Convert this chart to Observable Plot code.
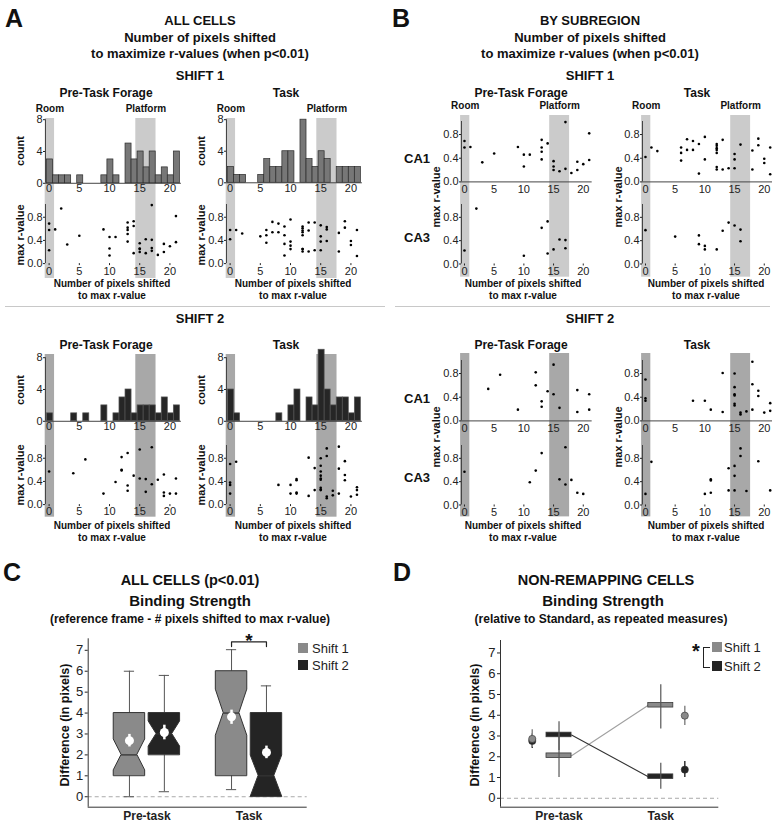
<!DOCTYPE html>
<html>
<head>
<meta charset="utf-8">
<script src="https://cdn.jsdelivr.net/npm/d3@7"></script>
<script src="https://cdn.jsdelivr.net/npm/@observablehq/plot@0.6"></script>
<style>
  html,body{margin:0;padding:0;background:#fff;overflow:hidden;}
  #root{position:relative;width:772px;height:823px;overflow:hidden;background:#fff;font-family:"Liberation Sans",Arial,sans-serif;}
</style>
</head>
<body>
<div id="root"></div>
<script>
// ================= DATA =================
const histBins = [0,1,2,3,4,5,6,7,8,9,10,11,12,13,14,15,16,17,18,19,20,21];
// Panel A histograms (counts per bin)
const histS1Pre  = [3,1,1,1,0,1,0,0,0,1,3,1,0,5,3,4,2,4,1,2,1,4];
const histS1Task = [2,1,1,0,0,1,3,2,2,4,4,0,8,3,2,4,3,0,2,2,2,2];
const histS2Pre  = [1,0,0,0,1,0,1,0,0,2,0,1,3,4,1,2,2,2,1,3,1,2];
const histS2Task = [4,1,0,0,0,0,0,0,1,0,2,4,0,3,2,9,4,2,3,3,1,3];

// Shaded reference regions (pixels shifted)
const regionNames = ["Room", "Platform"];
const regionStart = [-0.65, 14.35];
const regionEnd   = [0.9, 17.7];

// Scatter: pixels shifted (x) and max r-value (r), by shift / condition / subregion
const s1PreCA1x = [0,0,1,3,5,9,10,10,11,13,13,13,13,14,15,15,15,16,17,17,18,19,19,20,21,21];
const s1PreCA1r = [0.69,0.58,0.59,0.33,0.48,0.59,0.46,0.26,0.46,0.71,0.58,0.51,0.38,0.65,0.35,0.26,0.20,0.18,1.01,0.22,0.15,0.34,0.20,0.30,0.82,0.37];
const s1PreCA3x = [0,2,10,13,14,14,15,16,17,17];
const s1PreCA3r = [0.23,0.95,0.14,0.62,0.73,0.18,0.25,0.42,0.41,0.27];

const s1TaskCA1x = [0,1,2,6,6,6,7,7,8,8,9,9,10,10,12,12,12,12,12,12,12,13,13,14,15,15,15,16,18,18,19,19,20,20,21,21];
const s1TaskCA1r = [0.42,0.58,0.52,0.58,0.49,0.36,0.72,0.54,0.69,0.54,0.64,0.14,0.76,0.38,0.64,0.61,0.57,0.54,0.49,0.25,0.21,0.71,0.21,0.23,0.47,0.38,0.23,0.63,0.53,0.21,0.73,0.62,0.39,0.32,0.58,0.13];
const s1TaskCA3x = [0,5,9,9,10,10,12,13,14,15,16,16];
const s1TaskCA3r = [0.58,0.47,0.49,0.34,0.31,0.25,0.25,0.57,0.71,0.66,0.59,0.39];

const s2PreCA1x = [4,6,9,12,12,13,13,14,15,15,16,19,19,21,21];
const s2PreCA1r = [0.54,0.78,0.19,0.82,0.60,0.33,0.24,0.50,0.95,0.45,0.22,0.52,0.15,0.45,0.19];
const s2PreCA3x = [0,11,12,13,16,17,17,18,19,20];
const s2PreCA3r = [0.57,0.39,0.59,0.89,0.44,0.99,0.35,0.43,0.21,0.19];

const s2TaskCA1x = [0,0,0,8,10,11,13,13,15,15,15,15,15,15,16,16,17,18,18,18,19,19,20,21,21];
const s2TaskCA1r = [0.70,0.38,0.34,0.34,0.34,0.19,0.81,0.15,0.80,0.57,0.45,0.43,0.29,0.26,0.14,0.11,0.16,1.00,0.62,0.19,0.51,0.42,0.14,0.30,0.17];
const s2TaskCA3x = [0,1,10,11,11,11,14,14,15,15,15,16,16,17,19,21];
const s2TaskCA3r = [0.19,0.74,0.19,0.44,0.42,0.21,0.63,0.25,0.67,0.50,0.25,0.97,0.84,0.24,0.75,0.25];

// Panel C: box statistics, order = [Pre-task Shift 1, Pre-task Shift 2, Task Shift 1, Task Shift 2]
const conditions = ["Pre-task", "Task"];
const shifts = ["Shift 1", "Shift 2"];
const boxWhiskerLow  = [0, 0.24, 0.34, 0];
const boxQ1          = [1, 2, 1, 0];
const boxMedian      = [2, 3, 4, 1];
const boxQ3          = [4, 4, 6, 4];
const boxWhiskerHigh = [6, 5.8, 7.03, 5.3];
const boxNotchLow    = [1.26, 2.4, 2.92, 0.03];
const boxNotchHigh   = [2.74, 3.6, 5.12, 1.97];
const boxMean        = [2.68, 3.07, 3.82, 2.12];
const boxMeanLow     = [2.38, 2.72, 3.46, 1.82];
const boxMeanHigh    = [2.98, 3.42, 4.14, 2.42];
const sigBracketC    = 7.4;

// Panel D: per condition [Pre-task, Task]
const dMedShift1       = [2.05, 4.48];
const dMedShift2       = [3.05, 1.04];
const dRangeLowShift1  = [1.0, 3.34];
const dRangeHighShift1 = [3.1, 5.47];
const dRangeLowShift2  = [2.3, 0.43];
const dRangeHighShift2 = [3.69, 1.69];
const dMeanShift1      = [2.86, 3.98];
const dMeanLowShift1   = [2.45, 3.5];
const dMeanHighShift1  = [3.3, 4.43];
const dMeanShift2      = [2.76, 1.38];
const dMeanLowShift2   = [2.4, 1.0];
const dMeanHighShift2  = [3.1, 1.77];

// ================= STYLE / LAYOUT =================
const FONT = '"Liberation Sans", Arial, sans-serif';
const GREY = "#8a8a8a", DARK = "#242424";
const HIST1 = "#777777", HIST2 = "#262626";
const BAND1 = "#cbcbcb", BAND2 = "#a8a8a8";
const TICKFS = 11;
const baseStyle = {background: "transparent", overflow: "visible", fontFamily: FONT, color: "#222"};
const root = document.getElementById("root");

function put(el, left, top) {
  el.style.position = "absolute";
  el.style.left = left + "px";
  el.style.top = top + "px";
  root.appendChild(el);
}
function txt(s, cx, cy, size, o = {}) {
  const d = document.createElement("div");
  d.textContent = s;
  const tr = o.left ? "translate(0,-50%)" : "translate(-50%,-50%)";
  d.style.cssText = `position:absolute;left:${cx}px;top:${cy}px;font-size:${size}px;` +
    `font-weight:${o.weight || "bold"};color:${o.color || "#111"};white-space:nowrap;line-height:1;` +
    `font-family:${FONT};transform:${tr}${o.rotate ? " rotate(-90deg)" : ""};`;
  root.appendChild(d);
}
function hline(x1, x2, y, color) {
  const d = document.createElement("div");
  d.style.cssText = `position:absolute;left:${x1}px;top:${y}px;width:${x2 - x1}px;height:0;border-top:1px solid ${color};`;
  root.appendChild(d);
}

const COLS = {
  Apre:  {zero: 48.3,  unit: 6.04, dom: [-0.6, 21.9]},
  Atask: {zero: 229.3, unit: 6.04, dom: [-0.6, 21.9]},
  Bpre:  {zero: 464,   unit: 5.94, dom: [-0.5, 21.5]},
  Btask: {zero: 645.3, unit: 5.94, dom: [-0.5, 21.5]}
};
const geom = c => ({L: c.zero + c.dom[0] * c.unit, W: (c.dom[1] - c.dom[0]) * c.unit});

function bandLayer(col, top, bottom, color, withLabels) {
  const {L, W} = geom(col);
  const mT = withLabels ? 22 : 0, mX = 14;
  const regions = regionNames.map((n, i) => ({name: n, x1: regionStart[i], x2: regionEnd[i]}));
  const p = Plot.plot({
    width: W + 2 * mX, height: bottom - top + mT,
    marginLeft: mX, marginRight: mX, marginTop: mT, marginBottom: 0,
    x: {domain: col.dom, axis: null},
    style: baseStyle,
    marks: [
      Plot.rect(regions, {x1: "x1", x2: "x2", fill: color}),
      withLabels ? Plot.text(regions, {x: d => (d.x1 + d.x2) / 2, text: "name", frameAnchor: "top", dy: -14,
        fontSize: 10, fontWeight: "bold", fill: "#111"}) : null
    ]
  });
  put(p, L - mX, top - mT);
}

function histPlot(col, counts, yTop, y0, fill, stroke) {
  const {L, W} = geom(col);
  const mL = 34, mR = 12, mT = 6, mB = 18;
  const rows = counts.map((c, i) => ({bin: histBins[i], count: c})).filter(d => d.count > 0);
  const p = Plot.plot({
    width: W + mL + mR, height: (y0 - yTop) + mT + mB,
    marginLeft: mL, marginRight: mR, marginTop: mT, marginBottom: mB,
    x: {domain: col.dom}, y: {domain: [0, 8.15]},
    style: baseStyle,
    marks: [
      Plot.rect(rows, {x1: d => d.bin - 0.35, x2: d => d.bin + 0.65, y1: 0, y2: "count", fill, stroke, strokeWidth: 0.7}),
      Plot.ruleY([0], {stroke: "#444"}),
      Plot.ruleX([col.dom[0]], {y1: 0, y2: 8, stroke: "#444"}),
      Plot.axisY({ticks: [0, 4, 8], tickSize: 2, tickPadding: 1, fontSize: TICKFS, label: null}),
      Plot.axisX({ticks: [0, 5, 10, 15, 20], tickSize: 0, tickPadding: 1, fontSize: TICKFS, label: null})
    ]
  });
  put(p, L - mL, yTop - mT);
}

function scatterPlot(col, xs, rs, yTop, y0, o) {
  const {L, W} = geom(col);
  const mL = 34, mR = 12, mT = 6, mB = 18;
  const rows = xs.map((x, i) => ({x, r: rs[i]}));
  const p = Plot.plot({
    width: W + mL + mR, height: (y0 - yTop) + mT + mB,
    marginLeft: mL, marginRight: mR, marginTop: mT, marginBottom: mB,
    x: {domain: col.dom}, y: {domain: [0, 1.02]},
    style: baseStyle,
    marks: [
      o.zeroLine ? Plot.ruleY([0], {stroke: "#444"}) : null,
      Plot.ruleX([col.dom[0]], {y1: 0, y2: 1.02, stroke: "#444"}),
      Plot.dot(rows, {x: "x", y: "r", r: 1.3, fill: "#000"}),
      Plot.axisY({ticks: [0, 0.4, 0.8], tickFormat: d => d.toFixed(1), tickSize: 2, tickPadding: 1, fontSize: TICKFS, label: null}),
      Plot.axisX({ticks: [0, 5, 10, 15, 20], tickSize: o.tickSize, tickPadding: o.tickPadding, fontSize: TICKFS, label: null})
    ]
  });
  put(p, L - mL, yTop - mT);
}

// ================= PANEL A =================
txt("A", 14, 18, 25);
txt("ALL CELLS", 200, 20, 13);
txt("Number of pixels shifted", 200, 37, 13);
txt("to maximize r-values (when p<0.01)", 200, 53, 13);
txt("SHIFT 1", 200, 75, 13);
txt("SHIFT 2", 200, 318, 13);
hline(5, 385, 306, "#c8c8c8");

bandLayer(COLS.Apre, 118, 278, BAND1, true);
bandLayer(COLS.Atask, 118, 278, BAND1, true);
histPlot(COLS.Apre, histS1Pre, 117.9, 182.7, HIST1, "#2a2a2a");
histPlot(COLS.Atask, histS1Task, 117.9, 182.2, HIST1, "#2a2a2a");
scatterPlot(COLS.Apre, s1PreCA1x.concat(s1PreCA3x), s1PreCA1r.concat(s1PreCA3r), 203.9, 263, {tickSize: 2, tickPadding: 2});
scatterPlot(COLS.Atask, s1TaskCA1x.concat(s1TaskCA3x), s1TaskCA1r.concat(s1TaskCA3r), 203.9, 263, {tickSize: 2, tickPadding: 2});

bandLayer(COLS.Apre, 354, 516.7, BAND2, false);
bandLayer(COLS.Atask, 354, 516.7, BAND2, false);
histPlot(COLS.Apre, histS2Pre, 355.5, 420.3, HIST2, "#555");
histPlot(COLS.Atask, histS2Task, 355.5, 420.3, HIST2, "#555");
scatterPlot(COLS.Apre, s2PreCA1x.concat(s2PreCA3x), s2PreCA1r.concat(s2PreCA3r), 444.9, 504, {tickSize: 2, tickPadding: 1});
scatterPlot(COLS.Atask, s2TaskCA1x.concat(s2TaskCA3x), s2TaskCA1r.concat(s2TaskCA3r), 444.9, 504, {tickSize: 2, tickPadding: 1});

for (const [cx, cxTitle, title] of [[112, 106, "Pre-Task Forage"], [293, 286, "Task"]]) {
  txt(title, cxTitle, 93, 12);
  txt(title, cxTitle, 345, 12);
  txt("Number of pixels shifted", cx, 284, 10);
  txt("to max r-value", cx, 296, 10);
  txt("Number of pixels shifted", cx, 526, 10);
  txt("to max r-value", cx, 538, 10);
}
for (const x of [20, 201]) {
  txt("count", x, 151, 11, {rotate: true});
  txt("max r-value", x, 235, 11, {rotate: true});
  txt("count", x, 390, 11, {rotate: true});
  txt("max r-value", x, 475, 11, {rotate: true});
}

// ================= PANEL B =================
txt("B", 401, 18, 25);
txt("BY SUBREGION", 590, 20, 13);
txt("Number of pixels shifted", 590, 37, 13);
txt("to maximize r-values (when p<0.01)", 590, 53, 13);
txt("SHIFT 1", 590, 75, 13);
txt("SHIFT 2", 590, 318, 13);
hline(395, 770, 306, "#c8c8c8");

bandLayer(COLS.Bpre, 115, 276.7, BAND1, true);
bandLayer(COLS.Btask, 115, 276.7, BAND1, true);
scatterPlot(COLS.Bpre, s1PreCA1x, s1PreCA1r, 121.3, 181.7, {zeroLine: true, tickSize: 0, tickPadding: 3});
scatterPlot(COLS.Bpre, s1PreCA3x, s1PreCA3r, 203.8, 263.3, {tickSize: 2, tickPadding: 1});
scatterPlot(COLS.Btask, s1TaskCA1x, s1TaskCA1r, 121.3, 181.7, {zeroLine: true, tickSize: 0, tickPadding: 3});
scatterPlot(COLS.Btask, s1TaskCA3x, s1TaskCA3r, 203.8, 263.3, {tickSize: 2, tickPadding: 1});

bandLayer(COLS.Bpre, 353.3, 516.7, BAND2, false);
bandLayer(COLS.Btask, 353.3, 516.7, BAND2, false);
scatterPlot(COLS.Bpre, s2PreCA1x, s2PreCA1r, 360.3, 420.7, {zeroLine: true, tickSize: 0, tickPadding: 3});
scatterPlot(COLS.Bpre, s2PreCA3x, s2PreCA3r, 444.5, 504, {tickSize: 2, tickPadding: 1});
scatterPlot(COLS.Btask, s2TaskCA1x, s2TaskCA1r, 360.3, 420.7, {zeroLine: true, tickSize: 0, tickPadding: 3});
scatterPlot(COLS.Btask, s2TaskCA3x, s2TaskCA3r, 444.5, 504, {tickSize: 2, tickPadding: 1});

txt("Pre-Task Forage", 521, 93, 12); txt("Task", 697, 93, 12);
txt("Pre-Task Forage", 521, 345, 12); txt("Task", 697, 345, 12);
for (const cx of [523, 706]) {
  txt("Number of pixels shifted", cx, 284, 10); txt("to max r-value", cx, 296, 10);
  txt("Number of pixels shifted", cx, 526, 10); txt("to max r-value", cx, 538, 10);
}
for (const x of [436, 618]) {
  txt("max r-value", x, 197, 11, {rotate: true});
  txt("max r-value", x, 437, 11, {rotate: true});
}
txt("CA1", 417, 158, 13); txt("CA3", 417, 237, 13);
txt("CA1", 417, 398, 13); txt("CA3", 417, 477, 13);

// ================= PANEL C =================
txt("C", 12, 572, 25);
txt("ALL CELLS (p<0.01)", 190, 580, 14.5);
txt("Binding Strength", 190, 600, 15);
txt("(reference frame - # pixels shifted to max r-value)", 190, 619, 12);
txt("Difference (in pixels)", 65, 725, 12.5, {rotate: true});

const BOX_OFF = 0.171, BOX_HALF = 0.154, NOTCH = 0.5;
const boxes = boxQ1.map((q1, k) => ({
  k, shift: shifts[k % 2], xc: Math.floor(k / 2) + 1 + (k % 2 ? BOX_OFF : -BOX_OFF),
  q1, med: boxMedian[k], q3: boxQ3[k], lo: boxWhiskerLow[k], hi: boxWhiskerHigh[k],
  nlo: boxNotchLow[k], nhi: boxNotchHigh[k], mean: boxMean[k], mlo: boxMeanLow[k], mhi: boxMeanHigh[k]
}));
const outline = boxes.flatMap(b => {
  const full = BOX_HALF, nar = BOX_HALF * NOTCH;
  const pts = [[b.q1, full]];
  if (b.nlo > b.q1 + 0.05) pts.push([b.nlo, full]);
  pts.push([b.med, nar]);
  if (b.nhi < b.q3) pts.push([b.nhi, full]);
  pts.push([b.q3, full]);
  return pts.map(([y, h]) => ({k: b.k, shift: b.shift, y, xl: b.xc - h, xr: b.xc + h}));
});
const tb1 = boxes[2], tb2 = boxes[3];
const bracket = [
  {x: tb1.xc, y: sigBracketC - 0.22}, {x: tb1.xc, y: sigBracketC},
  {x: tb2.xc, y: sigBracketC}, {x: tb2.xc, y: sigBracketC - 0.22}
];
const XDOM = [0.425, 2.57];

const plotC = Plot.plot({
  width: 390, height: 193,
  marginLeft: 87.7, marginRight: 83.3, marginTop: 8.3, marginBottom: 16.3,
  x: {domain: XDOM}, y: {domain: [-0.5, 7.55]},
  color: {domain: shifts, range: [GREY, DARK]},
  style: baseStyle,
  marks: [
    Plot.ruleY([0], {stroke: "#aaa", strokeDasharray: "4,3"}),
    Plot.ruleX(boxes, {x: "xc", y1: "lo", y2: "q1", stroke: "#555"}),
    Plot.ruleX(boxes, {x: "xc", y1: "q3", y2: "hi", stroke: "#555"}),
    Plot.ruleY(boxes.filter(b => b.lo < b.q1), {y: "lo", x1: d => d.xc - 0.05, x2: d => d.xc + 0.05, stroke: "#555"}),
    Plot.ruleY(boxes, {y: "hi", x1: d => d.xc - 0.05, x2: d => d.xc + 0.05, stroke: "#555"}),
    Plot.areaX(outline, {y: "y", x1: "xl", x2: "xr", z: "k", fill: "shift", stroke: "#333", strokeWidth: 1}),
    Plot.ruleY(boxes, {y: "med", x1: d => d.xc - BOX_HALF * NOTCH, x2: d => d.xc + BOX_HALF * NOTCH, stroke: "#333", strokeWidth: 1.3}),
    Plot.ruleX(boxes, {x: "xc", y1: "mlo", y2: "mhi", stroke: "white", strokeWidth: 2.5}),
    Plot.dot(boxes, {x: "xc", y: "mean", r: 4.5, fill: "white"}),
    Plot.line(bracket, {x: "x", y: "y", stroke: "#222", strokeWidth: 1.2}),
    Plot.text([{x: (tb1.xc + tb2.xc) / 2, y: sigBracketC}], {x: "x", y: "y", text: () => "*", fontSize: 19, fontWeight: "bold", dy: -1, lineAnchor: "middle", fill: "#111"}),
    Plot.ruleX([XDOM[0]], {stroke: "#333"}),
    Plot.ruleY([-0.5], {stroke: "#333"}),
    Plot.axisY({ticks: [0,1,2,3,4,5,6,7], tickSize: 3, tickPadding: 2, fontSize: 13, label: null}),
    Plot.axisX({ticks: [1, 2], tickFormat: d => conditions[d - 1], tickSize: 0, tickPadding: 4, fontSize: 12, fontWeight: "bold", label: null})
  ]
});
put(plotC, 0, 630);

// legend C
function swatch(x, y, color) {
  const d = document.createElement("div");
  d.style.cssText = `position:absolute;left:${x}px;top:${y}px;width:10px;height:10px;background:${color};`;
  root.appendChild(d);
}
swatch(298, 643, GREY); txt("Shift 1", 312, 648, 13, {weight: "normal", left: true, color: "#222"});
swatch(298, 660, DARK); txt("Shift 2", 312, 665, 13, {weight: "normal", left: true, color: "#222"});

// ================= PANEL D =================
txt("D", 402, 572, 25);
txt("NON-REMAPPING CELLS", 606, 580, 14.5);
txt("Binding Strength", 603, 600, 15);
txt("(relative to Standard, as repeated measures)", 601, 619, 12);
txt("Difference (in pixels)", 475, 725, 12.5, {rotate: true});

const D_BAR = 0.123, D_DOT = [-0.263, 0.236], D_THICK = 0.11;
const dRows = [0, 1].flatMap(ci => [
  {ci, shift: "Shift 1", x: ci + 1, med: dMedShift1[ci], rlo: dRangeLowShift1[ci], rhi: dRangeHighShift1[ci],
   xm: ci + 1 + D_DOT[ci], mean: dMeanShift1[ci], mlo: dMeanLowShift1[ci], mhi: dMeanHighShift1[ci]},
  {ci, shift: "Shift 2", x: ci + 1, med: dMedShift2[ci], rlo: dRangeLowShift2[ci], rhi: dRangeHighShift2[ci],
   xm: ci + 1 + D_DOT[ci], mean: dMeanShift2[ci], mlo: dMeanLowShift2[ci], mhi: dMeanHighShift2[ci]}
]);
const dLines = dRows.map(d => ({shift: d.shift, x: d.ci === 0 ? d.x + D_BAR : d.x - D_BAR, y: d.med}));
const dDots = [...dRows].sort((a, b) => (a.shift < b.shift ? 1 : -1));

const plotD = Plot.plot({
  width: 382, height: 193,
  marginLeft: 110, marginRight: 53.7, marginTop: 10, marginBottom: 16.3,
  x: {domain: XDOM}, y: {domain: [-0.43, 7.6]},
  color: {domain: shifts, range: [GREY, DARK]},
  style: baseStyle,
  marks: [
    Plot.ruleY([0], {stroke: "#aaa", strokeDasharray: "4,3"}),
    Plot.line(dLines, {x: "x", y: "y", z: "shift", stroke: d => d.shift === "Shift 1" ? "#a0a0a0" : "#333", strokeWidth: 1.1}),
    Plot.rect(dRows, {x1: d => d.x - D_BAR, x2: d => d.x + D_BAR, y1: d => d.med - D_THICK, y2: d => d.med + D_THICK, fill: "shift", stroke: "#3a3a3a", strokeWidth: 0.8}),
    Plot.ruleX(dRows, {x: "x", y1: "rlo", y2: "rhi", stroke: "#555", strokeWidth: 1.2}),
    Plot.ruleX(dDots, {x: "xm", y1: "mlo", y2: "mhi", stroke: d => d.shift === "Shift 1" ? "#888" : "#333", strokeWidth: 1.5}),
    Plot.dot(dDots, {x: "xm", y: "mean", r: 3.6, fill: "shift", stroke: "#333", strokeWidth: 0.6}),
    Plot.ruleX([XDOM[0]], {stroke: "#333"}),
    Plot.ruleY([-0.43], {stroke: "#333"}),
    Plot.axisY({ticks: [0,1,2,3,4,5,6,7], tickSize: 3, tickPadding: 2, fontSize: 13, label: null}),
    Plot.axisX({ticks: [1, 2], tickFormat: d => conditions[d - 1], tickSize: 0, tickPadding: 4, fontSize: 12, fontWeight: "bold", label: null})
  ]
});
put(plotD, 390, 630);

// legend D with significance bracket
swatch(712, 642, GREY); txt("Shift 1", 724, 647, 13, {weight: "normal", left: true, color: "#222"});
swatch(712, 661, DARK); txt("Shift 2", 724, 666, 13, {weight: "normal", left: true, color: "#222"});
(function () {
  const d = document.createElement("div");
  d.style.cssText = "position:absolute;left:703px;top:647px;width:6px;height:19px;border:1.2px solid #222;border-right:none;";
  root.appendChild(d);
})();
txt("*", 696, 651, 20);
</script>
</body>
</html>
